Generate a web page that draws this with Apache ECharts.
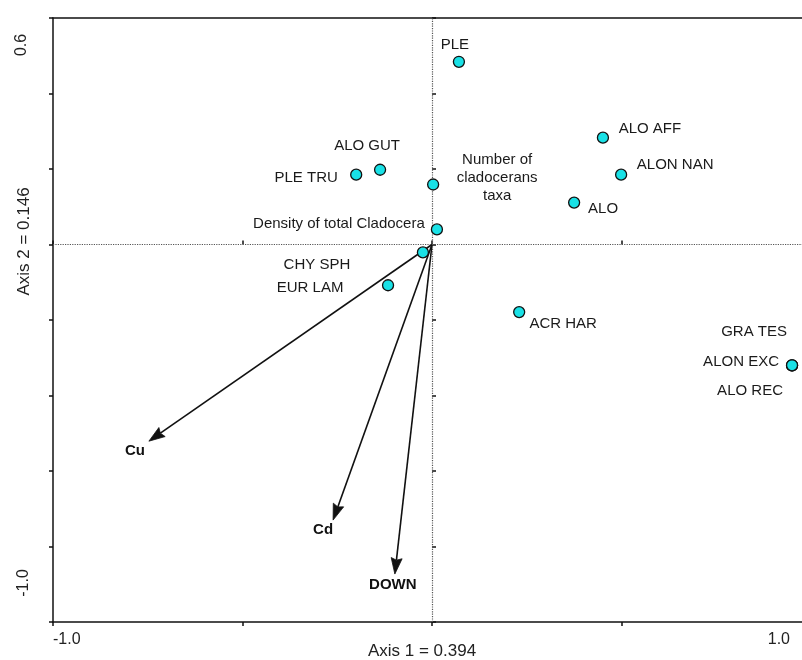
<!DOCTYPE html>
<html>
<head>
<meta charset="utf-8">
<script src="https://cdn.jsdelivr.net/npm/echarts@6/dist/echarts.min.js"></script>
<style>
html,body{margin:0;padding:0;background:#fff;}
#chart{width:802px;height:660px;}
</style>
</head>
<body>
<div id="chart"></div>
<script>
// ---- data ----
const speciesNames = ['PLE','ALO GUT','PLE TRU','Number of\ncladocerans\ntaxa','Density of total Cladocera','CHY SPH','EUR LAM','ALO AFF','ALON NAN','ALO','ACR HAR','GRA TES','ALON EXC','ALO REC'];
const speciesAxis1 = [0.071,-0.137,-0.200,0.003,0.013,-0.024,-0.116,0.451,0.499,0.375,0.230,0.950,0.950,0.950];
const speciesAxis2 = [0.484,0.198,0.185,0.159,0.040,-0.021,-0.108,0.283,0.185,0.111,-0.179,-0.320,-0.320,-0.320];
const envNames = ['Cu','Cd','DOWN'];
const envAxis1 = [-0.747,-0.261,-0.098];
const envAxis2 = [-0.521,-0.730,-0.873];
const xTickLabels = ['-1.0','1.0'];
const yTickLabels = ['0.6','-1.0'];
const xTitle = 'Axis 1 = 0.394';
const yTitle = 'Axis 2 = 0.146';

// ---- label placement (styles) ----
const speciesLabelOffset = [[-4,-17],[-13,-24],[-50,3],[64,-7],[-98,-6],[-106,12],[-78,3],[47,-9],[54,-10],[29,6],[44,12],[-38,-33],[-51,-3],[-42,26]];
const envLabelOffset = [[-14,10],[-10,10],[-2,11]];

const FONT = '"Liberation Sans", Arial, sans-serif';
const chart = echarts.init(document.getElementById('chart'), null, {renderer:'canvas'});

const speciesData = speciesNames.map((n,i)=>({
  name:n, value:[speciesAxis1[i], speciesAxis2[i]],
  label:{offset:speciesLabelOffset[i]}
}));
const envData = envNames.map((n,i)=>({name:n, value:[envAxis1[i], envAxis2[i]]}));

const option = {
  animation:false,
  backgroundColor:'#fff',
  grid:{left:53, top:18, right:-9, bottom:38, containLabel:false, outerBoundsMode:'none'},
  xAxis:[{
    type:'value', min:-1, max:1, interval:0.5, position:'bottom',
    axisLine:{show:true, onZero:false, lineStyle:{color:'#111', width:1.5}},
    axisTick:{show:true, inside:false, length:4, lineStyle:{color:'#111', width:1.5}},
    splitLine:{show:false},
    axisLabel:{
      show:true, margin:10, color:'#222', fontFamily:FONT, fontSize:16,
      alignMinLabel:'left', alignMaxLabel:'right',
      formatter:function(v){ if(Math.abs(v+1)<1e-9) return '{l|'+xTickLabels[0]+'}'; if(Math.abs(v-1)<1e-9) return '{r|'+xTickLabels[1]+'}'; return ''; },
      rich:{l:{fontFamily:FONT,fontSize:16,color:'#222'}, r:{fontFamily:FONT,fontSize:16,color:'#222',padding:[0,21,0,0]}}
    },
    name:xTitle, nameLocation:'middle', nameGap:21, nameMoveOverlap:false,
    nameTextStyle:{fontFamily:FONT, fontSize:17, color:'#222', padding:[0,20,0,0]}
  },{
    type:'value', min:-1, max:1, interval:0.5, position:'bottom',
    axisLine:{show:false}, axisTick:{show:true, inside:true, length:4, lineStyle:{color:'#111', width:1.5}},
    axisLabel:{show:false}, splitLine:{show:false}
  },{
    type:'value', min:-1, max:1, interval:0.5, position:'top',
    axisLine:{show:true, onZero:false, lineStyle:{color:'#111', width:1.5}},
    axisTick:{show:false}, axisLabel:{show:false}, splitLine:{show:false}
  }],
  yAxis:[{
    type:'value', min:-1, max:0.6, interval:0.2, position:'left',
    axisLine:{show:true, onZero:false, lineStyle:{color:'#111', width:1.5}},
    axisTick:{show:true, inside:false, length:4, lineStyle:{color:'#111', width:1.5}},
    axisLabel:{show:false}, splitLine:{show:false}
  },{
    type:'value', min:-1, max:0.6, interval:0.2, position:'left',
    axisLine:{show:false}, axisTick:{show:true, inside:true, length:4, lineStyle:{color:'#111', width:1.5}},
    axisLabel:{show:false}, splitLine:{show:false}
  }],
  series:[
    {
      type:'custom', xAxisIndex:0, yAxisIndex:0, z:3, silent:true,
      data:envData.map(d=>d.value),
      renderItem:function(params, api){
        const i = params.dataIndex;
        const p0 = api.coord([0,0]);
        const p1 = api.coord([api.value(0), api.value(1)]);
        const dx = p1[0]-p0[0], dy = p1[1]-p0[1];
        const len = Math.sqrt(dx*dx+dy*dy);
        const ux = dx/len, uy = dy/len;
        const hl = 16, hw = 5.5;
        const bx = p1[0]-ux*hl, by = p1[1]-uy*hl;
        const nx = -uy, ny = ux;
        const off = envLabelOffset[i];
        return {
          type:'group',
          children:[
            {type:'line', shape:{x1:p0[0], y1:p0[1], x2:bx+ux*2, y2:by+uy*2}, style:{stroke:'#111', lineWidth:1.6}},
            {type:'polygon', shape:{points:[[p1[0],p1[1]],[bx+nx*hw, by+ny*hw],[bx+ux*2, by+uy*2],[bx-nx*hw, by-ny*hw]]}, style:{fill:'#111', stroke:'#111', lineWidth:0.8}},
            {type:'text', style:{text:envNames[i], x:p1[0]+off[0], y:p1[1]+off[1], fill:'#111', font:'bold 15px '+FONT, align:'center', verticalAlign:'middle'}}
          ]
        };
      }
    },
    {
      type:'scatter', xAxisIndex:0, yAxisIndex:0, z:5, silent:true,
      symbol:'circle', symbolSize:11,
      itemStyle:{color:'#19e1e6', borderColor:'#111', borderWidth:1.3, opacity:1},
      label:{show:true, position:'inside', formatter:'{b}', color:'#1a1a1a', fontFamily:FONT, fontSize:15, lineHeight:18, align:'center', verticalAlign:'middle'},
      data:speciesData,
      markLine:{
        silent:true, symbol:['none','none'], animation:false,
        label:{show:false},
        lineStyle:{color:'#555', type:'dotted', width:1.2},
        data:[{xAxis:0},{yAxis:0}]
      }
    }
  ]
};
chart.setOption(option);

// rotated y tick labels and y title, positioned through the axis scale
const pTop = chart.convertToPixel({gridIndex:0}, [-1, 0.6]);
const pBot = chart.convertToPixel({gridIndex:0}, [-1, -1.0]);
const pMid = chart.convertToPixel({gridIndex:0}, [-1, 0]);
chart.setOption({
  graphic:[
    {type:'text', x:pTop[0]-31, y:pTop[1]+27, rotation:Math.PI/2, style:{text:yTickLabels[0], font:'16px '+FONT, fill:'#222', align:'center', verticalAlign:'middle'}},
    {type:'text', x:pBot[0]-29, y:pBot[1]-39, rotation:Math.PI/2, style:{text:yTickLabels[1], font:'16px '+FONT, fill:'#222', align:'center', verticalAlign:'middle'}},
    {type:'text', x:pMid[0]-29, y:pMid[1]-3, rotation:Math.PI/2, style:{text:yTitle, font:'17px '+FONT, fill:'#222', align:'center', verticalAlign:'middle'}}
  ]
});
</script>
</body>
</html>
